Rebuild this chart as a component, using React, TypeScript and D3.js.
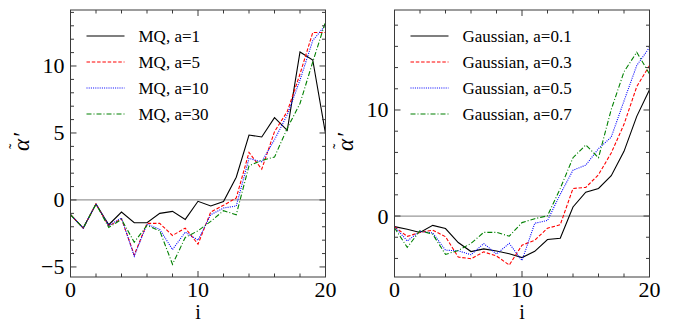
import * as d3 from 'd3';

const steps = d3.range(0, 21);

const mqLabels = ['MQ, a=1', 'MQ, a=5', 'MQ, a=10', 'MQ, a=30'];
const mq1 = [-1.1, -2.1, -0.3, -1.85, -0.9, -1.7, -1.7, -1.0, -0.85, -1.45, -0.1, -0.45, -0.12, 1.7, 4.85, 4.7, 6.15, 5.2, 11.05, 10.45, 4.95];
const mq5 = [-1.1, -2.1, -0.3, -1.95, -1.4, -4.1, -1.75, -1.75, -2.65, -2.1, -3.3, -0.9, -0.4, 0.15, 3.55, 2.3, 5.1, 6.6, 9.4, 12.5, 12.5];
const mq10 = [-1.1, -2.1, -0.3, -1.9, -1.35, -4.2, -1.8, -2.2, -3.7, -2.4, -3.0, -1.1, -0.6, -0.45, 3.1, 2.85, 4.5, 6.35, 8.95, 11.9, 13.05];
const mq30 = [-1.1, -2.1, -0.3, -2.05, -1.45, -3.15, -1.9, -2.3, -4.8, -2.8, -2.3, -1.6, -0.8, -1.1, 2.55, 2.95, 3.2, 5.35, 7.2, 10.3, 13.3];

const gaussLabels = ['Gaussian, a=0.1', 'Gaussian, a=0.3', 'Gaussian, a=0.5', 'Gaussian, a=0.7'];
const g01 = [-1.0, -1.25, -1.55, -0.88, -1.18, -2.5, -3.35, -3.1, -3.3, -3.55, -3.92, -3.33, -2.22, -2.1, 0.85, 2.25, 2.6, 3.8, 6.1, 9.4, 11.9];
const g03 = [-1.0, -1.92, -1.55, -1.33, -1.95, -3.87, -4.03, -3.38, -3.77, -4.62, -2.75, -2.28, -1.15, -0.82, 2.6, 2.7, 3.9, 5.95, 8.65, 12.2, 14.2];
const g05 = [-1.0, -2.35, -1.45, -1.6, -3.22, -3.28, -3.65, -2.6, -3.58, -2.58, -4.2, -0.68, -0.42, 2.05, 4.32, 4.8, 6.35, 7.45, 10.85, 14.2, 15.9];
const g07 = [-1.1, -2.96, -1.38, -1.72, -3.62, -3.25, -2.58, -1.54, -1.54, -1.9, -0.62, -0.25, 0.02, 2.6, 5.5, 6.7, 5.5, 10.05, 13.6, 15.45, 13.4];

const xMajor = [0, 10, 20];
const xMinor = d3.range(0, 21, 2);

const colors = ['#000000', '#ff0000', '#0000ff', '#008000'];
const dashes = ['none', '3.5 1.8', '1 1.2', '5 2 1 2'];

const FONT = 'Liberation Serif';
const TOP = 10;
const BOTTOM = 277;
const PW = 255;
const FRAME = '#3a3a3a';

type PanelProps = {
  left: number;
  yDomain: [number, number];
  yMajor: number[];
  yMinorStep: number;
  series: number[][];
  labels: string[];
  id: string;
};

function Panel({ left, yDomain, yMajor, yMinorStep, series, labels, id }: PanelProps) {
  const x = d3.scaleLinear().domain([0, 20]).range([left, left + PW]);
  const y = d3.scaleLinear().domain(yDomain).range([BOTTOM, TOP]);
  const line = d3
    .line<number>()
    .x((_, i) => x(steps[i]))
    .y((v) => y(v));

  const yStart = Math.ceil(yDomain[0] / yMinorStep) * yMinorStep;
  const yMinor = d3.range(yStart, yDomain[1], yMinorStep);
  const isMajorY = (v: number) => yMajor.some((m) => Math.abs(m - v) < 1e-6);

  return (
    <g>
      <clipPath id={id}>
        <rect x={left} y={TOP} width={PW} height={BOTTOM - TOP} />
      </clipPath>

      {/* zero line */}
      <line x1={left} x2={left + PW} y1={y(0)} y2={y(0)} stroke="#999" strokeWidth={1.3} />

      {series.map((s, k) => (
        <path
          key={k}
          d={line(s) ?? ''}
          fill="none"
          stroke={colors[k]}
          strokeWidth={1.1}
          strokeDasharray={dashes[k]}
          clipPath={`url(#${id})`}
        />
      ))}

      <rect x={left} y={TOP} width={PW} height={BOTTOM - TOP} fill="none" stroke={FRAME} strokeWidth={1} />

      {/* ticks on all four sides, pointing in */}
      {xMinor.map((v) => {
        const len = xMajor.includes(v) ? 6 : 3.5;
        return (
          <g key={`x${v}`} stroke={FRAME}>
            <line x1={x(v)} x2={x(v)} y1={BOTTOM} y2={BOTTOM - len} />
            <line x1={x(v)} x2={x(v)} y1={TOP} y2={TOP + len} />
          </g>
        );
      })}
      {yMinor.map((v) => {
        const len = isMajorY(v) ? 6 : 3.5;
        return (
          <g key={`y${v}`} stroke={FRAME}>
            <line x1={left} x2={left + len} y1={y(v)} y2={y(v)} />
            <line x1={left + PW} x2={left + PW - len} y1={y(v)} y2={y(v)} />
          </g>
        );
      })}

      {xMajor.map((v) => (
        <text key={`xt${v}`} x={x(v)} y={297} textAnchor="middle" fontFamily={FONT} fontSize={22}>
          {v}
        </text>
      ))}
      {yMajor.map((v) => (
        <text key={`yt${v}`} x={left - 6} y={y(v) + 7.5} textAnchor="end" fontFamily={FONT} fontSize={22}>
          {v < 0 ? `\u2212${Math.abs(v)}` : String(v)}
        </text>
      ))}

      <text x={left + PW / 2} y={319} textAnchor="middle" fontFamily={FONT} fontSize={20}>
        i
      </text>

      {/* y label: alpha with tilde and prime */}
      <g transform={`translate(${left - 42},143) rotate(-90)`} fontFamily={FONT}>
        <text x={-8} y={0} fontStyle="italic" fontSize={23}>
          {'\u03b1'}
        </text>
        <text x={-6} y={-9} fontSize={16}>
          {'\u02dc'}
        </text>
        <text x={5} y={0} fontStyle="italic" fontSize={23}>
          {'\u2032'}
        </text>
      </g>

      {labels.map((lab, k) => {
        const ly = 36 + k * 26;
        return (
          <g key={lab}>
            <line
              x1={left + 16}
              x2={left + 54}
              y1={ly}
              y2={ly}
              stroke={colors[k]}
              strokeWidth={1.1}
              strokeDasharray={dashes[k]}
            />
            <text x={left + 68} y={ly + 6} fontFamily={FONT} fontSize={17}>
              {lab}
            </text>
          </g>
        );
      })}
    </g>
  );
}

export default function App() {
  return (
    <div style={{ position: 'absolute', left: 0, top: 0 }}>
      <svg width={676} height={322} style={{ display: 'block', background: '#fff' }}>
        <Panel
          id="clipL"
          left={70.5}
          yDomain={[-5.75, 14.18]}
          yMajor={[-5, 0, 5, 10]}
          yMinorStep={1}
          series={[mq1, mq5, mq10, mq30]}
          labels={mqLabels}
        />
        <Panel
          id="clipR"
          left={394.5}
          yDomain={[-5.75, 19.43]}
          yMajor={[0, 10]}
          yMinorStep={2}
          series={[g01, g03, g05, g07]}
          labels={gaussLabels}
        />
      </svg>
    </div>
  );
}
